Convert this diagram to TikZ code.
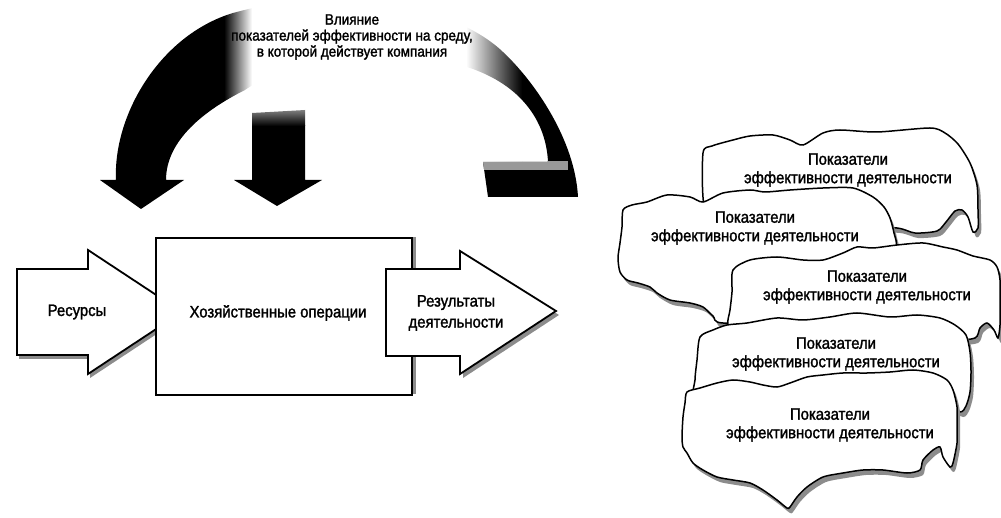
\documentclass[tikz,border=0pt]{standalone}
\usepackage{fontspec}
\setmainfont{Liberation Sans}
\newfontfamily\diagfont{Liberation Sans}[FakeStretch=0.9, FakeBold=1.6]
\begin{document}
\begin{tikzpicture}[x=1pt,y=-1pt,
  outline/.style={draw=black, line width=1.8pt, fill=white, line join=miter},
  shadowfill/.style={fill=black!45},
  cloudline/.style={draw=black, line width=1.5pt, fill=white},
  cloudtext/.style={align=center, font=\diagfont\fontsize{16.5}{18.5}\selectfont, inner sep=0pt},
  flowtext/.style={align=center, font=\diagfont\fontsize{16.5}{21}\selectfont, inner sep=0pt},
  toptext/.style={align=center, font=\diagfont\fontsize{15}{16}\selectfont, inner sep=0pt}]
\useasboundingbox (0,0) rectangle (1001,518);

% ---------- arched band with its left arrowhead ----------
\begin{scope}
  \clip (116,180) .. controls (113,115) and (160,35) .. (233,13)
        .. controls (280,0) and (320,-2) .. (350,0)
        .. controls (420,3) and (475,25) .. (503,52)
        .. controls (535,82) and (575,140) .. (578,197)
        -- (488,197) -- (483,162) -- (548,162)
        .. controls (546,120) and (520,85) .. (470,68)
        .. controls (400,48) and (290,58) .. (245,90)
        .. controls (205,110) and (166,140) .. (166,180)
        -- (184,180) -- (141,209) -- (100,180) -- cycle;
  \fill[black] (90,0) rectangle (224,220);
  \shade[left color=black, right color=white] (224,0) rectangle (252,220);
  \shade[left color=white, right color=black] (466,0) rectangle (522,162);
  \fill[black] (522,0) rectangle (600,162);
  \fill[black] (470,162) rectangle (600,220);
  \fill[black!40] (480,161) rectangle (568,170);
\end{scope}

% ---------- short down arrow ----------
\begin{scope}
  \clip (252,113) -- (305,110) -- (305,180) -- (322,180) -- (277,206)
        -- (234,180) -- (252,180) -- cycle;
  \fill[black] (220,125) rectangle (340,215);
  \shade[top color=black!35, bottom color=black] (220,105) rectangle (340,126);
\end{scope}

\node[toptext] (influence) at (352,37)
  {Влияние\\показателей эффективности на среду,\\в которой действует компания};

% ---------- resources -> operations -> results ----------
\fill[shadowfill] (19,273) -- (90,273) -- (90,254) -- (184,316) -- (90,378)
  -- (90,359) -- (19,359) -- cycle;
\path[outline] (17,269) -- (88,269) -- (88,250) -- (182,312) -- (88,374)
  -- (88,355) -- (17,355) -- cycle;
\node[flowtext] (res) at (77,312) {Ресурсы};

\fill[shadowfill] (160,237) rectangle (416,394);
\node[outline, minimum width=256pt, minimum height=157pt, inner sep=0pt,
      anchor=north west] (ops) at (155,237) {};
\node[flowtext] (opstext) at (278,313) {Хозяйственные операции};

\fill[shadowfill] (463,255) -- (559,315) -- (463,378) -- cycle;
\path[outline] (386,269) -- (460,269) -- (460,251) -- (556,311) -- (460,374)
  -- (460,356) -- (386,356) -- cycle;
\node[flowtext] (out) at (456,313) {Результаты\\деятельности};

% ---------- stacked indicator clouds ----------
\newcommand\cloudpiece[1]{%
  \fill[shadowfill, shift={(3,5)}] plot[smooth cycle, tension=0.45] coordinates {#1};
  \path[cloudline] plot[smooth cycle, tension=0.45] coordinates {#1};}

\cloudpiece{(703,153) (712,146) (733,140) (750,136) (773,135) (790,140)
  (803,145) (823,133) (840,130) (877,132) (930,128) (945,133) (958,144)
  (970,163) (977,185) (978,210) (978,228) (973,232) (968,217) (962,210)
  (955,211) (946,222) (937,231) (915,233) (897,228) (850,226) (780,222)
  (720,218) (704,205)}
\node[cloudtext] (c1) at (848,170) {Показатели\\эффективности деятельности};

\cloudpiece{(623,210) (632,205) (647,202) (667,195) (690,197) (703,202)
  (723,193) (750,190) (765,192) (790,190) (823,188) (853,188) (873,197)
  (884,207) (890,218) (894,233) (896,250) (880,300) (800,320) (723,323)
  (713,316) (703,307) (690,303) (670,300) (657,293) (650,287) (638,283)
  (627,280) (620,272) (618,258) (620,243) (622,227)}
\node[cloudtext] (c2) at (755,228) {Показатели\\эффективности деятельности};

\cloudpiece{(733,270) (750,260) (777,257) (803,260) (823,260) (843,253)
  (857,247) (873,248) (897,245) (923,243) (943,247) (957,250) (973,256)
  (990,260) (997,267) (1000,280) (1000,305) (1000,325) (998,338) (994,330)
  (987,323) (980,328) (975,338) (950,340) (850,340) (740,338) (728,325)
  (730,310) (732,292)}
\node[cloudtext] (c3) at (867,287) {Показатели\\эффективности деятельности};

\cloudpiece{(700,337) (713,330) (727,325) (747,323) (777,318) (803,320)
  (830,317) (857,313) (890,317) (917,315) (940,318) (955,325) (966,335)
  (970,352) (971,372) (970,392) (966,406) (960,412) (940,405) (850,400)
  (750,400) (697,395) (695,380) (697,360)}
\node[cloudtext] (c4) at (836,354) {Показатели\\эффективности деятельности};

\cloudpiece{(687,392) (700,388) (717,383) (733,380) (750,382) (763,385)
  (777,387) (790,383) (807,377) (823,375) (843,373) (867,373) (890,372)
  (913,370) (933,373) (947,380) (953,390) (957,407) (957,427) (957,443)
  (953,463) (950,467) (943,457) (940,447) (933,450) (923,460) (920,470)
  (907,473) (883,470) (863,470) (843,473) (823,477) (807,487) (797,497)
  (790,507) (787,508) (777,500) (763,490) (750,483) (733,480) (717,477)
  (703,470) (693,463) (687,453) (683,447) (682,437) (683,417) (685,403)}
\node[cloudtext] (c5) at (830,425) {Показатели\\эффективности деятельности};
\end{tikzpicture}
\end{document}
